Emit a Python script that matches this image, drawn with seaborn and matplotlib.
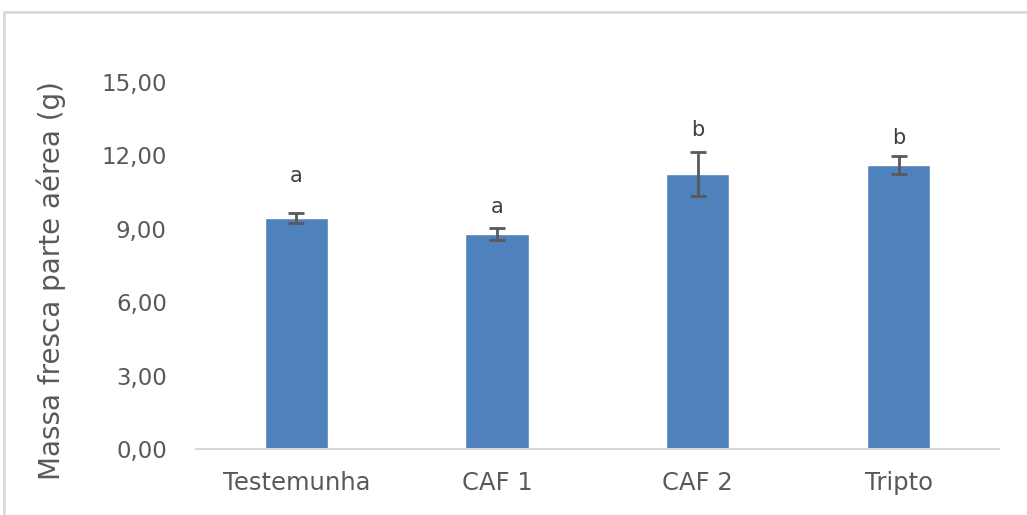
import matplotlib
matplotlib.use("Agg")
import matplotlib.pyplot as plt
import seaborn as sns
import pandas as pd
from matplotlib.patches import Rectangle

# Treatments, mean shoot fresh mass, error and significance letters
tratamentos = ["Testemunha", "CAF 1", "CAF 2", "Tripto"]
massa = [9.43, 8.80, 11.24, 11.59]
erro = [0.20, 0.25, 0.90, 0.37]
letras = ["a", "a", "b", "b"]
altura_letras = [11.14, 9.88, 13.02, 12.73]
yticks = [0, 3, 6, 9, 12, 15]

sns.set_theme(style="white")
plt.rcParams["font.family"] = ["DejaVu Sans"]

df = pd.DataFrame({"trat": tratamentos, "massa": massa})

fig = plt.figure(figsize=(10.27, 5.15), dpi=100)
ax = fig.add_axes([0.1908, 0.1282, 0.7819, 0.7126])

sns.barplot(data=df, x="trat", y="massa", order=tratamentos, color="#4F81BD",
            saturation=1, width=0.315, errorbar=None, ax=ax, zorder=2)
ax.errorbar(range(len(tratamentos)), massa, yerr=erro, fmt="none",
            ecolor="#595959", elinewidth=2, capsize=5.5, capthick=2, zorder=3)

for i, (l, h) in enumerate(zip(letras, altura_letras)):
    ax.text(i, h, l, ha="center", va="center", fontsize=15, color="#404040")

ax.set_ylim(0, 15)
ax.set_xlim(-0.5, 3.5)
ax.set_yticks(yticks)
ax.set_yticklabels([f"{v:.2f}".replace(".", ",") for v in yticks],
                   fontsize=16.5, color="#595959")
ax.tick_params(axis="x", labelsize=17.5, colors="#595959", length=0, pad=16)
ax.tick_params(axis="y", length=0, pad=21)
ax.set_xlabel("")
ax.set_ylabel("Massa fresca parte aérea (g)", fontsize=20, color="#595959")
ax.yaxis.set_label_coords(-0.162, 0.46)

for s in ["top", "right", "left"]:
    ax.spines[s].set_visible(False)
ax.spines["bottom"].set_color("#D9D9D9")
ax.spines["bottom"].set_linewidth(1.5)

# outer chart frame
fig.patches.append(Rectangle((4 / 1027, -0.1), 1.2, 1 - 12 / 515 + 0.1,
                             transform=fig.transFigure, fill=False,
                             edgecolor="#D9D9D9", linewidth=2))

fig.savefig("out.png", dpi=100)
